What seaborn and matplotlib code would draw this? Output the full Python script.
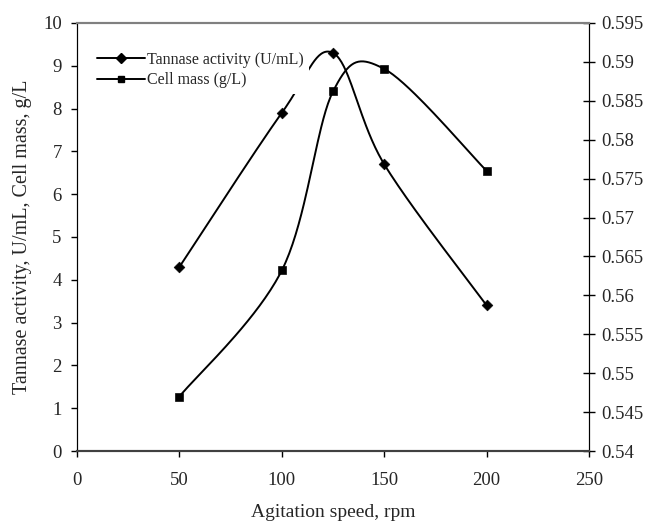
import numpy as np
import matplotlib
matplotlib.use('Agg')
import matplotlib.pyplot as plt
import seaborn as sns
from matplotlib.lines import Line2D

# Dados
velocidade = [50, 100, 125, 150, 200]
tanase = [4.3, 7.9, 9.3, 6.7, 3.4]
massa_celular = [0.547, 0.5632, 0.5862, 0.5891, 0.576]

ticks_dir = [0.54, 0.545, 0.55, 0.555, 0.56, 0.565, 0.57, 0.575, 0.58, 0.585, 0.59, 0.595]
labels_dir = ['0.54', '0.545', '0.55', '0.555', '0.56', '0.565', '0.57', '0.575',
              '0.58', '0.585', '0.59', '0.595']

sns.set_style('ticks')
plt.rcParams['font.family'] = ['Liberation Serif', 'DejaVu Serif']


# Curva suavizada (bezier tipo Excel) calculada em pixels
def curva_suave(ax, xs, ys, n=40):
    pts = ax.transData.transform(np.column_stack([xs, ys]))
    m = len(pts)
    saida = []
    for i in range(m - 1):
        p0 = pts[i - 1] if i > 0 else pts[i]
        p1 = pts[i]
        p2 = pts[i + 1]
        p3 = pts[i + 2] if i + 2 < m else pts[i + 1]
        c1 = p1 + (p2 - p0) / 6
        c2 = p2 - (p3 - p1) / 6
        t = np.linspace(0, 1, n)[:, None]
        seg = ((1 - t) ** 3) * p1 + 3 * ((1 - t) ** 2) * t * c1 + 3 * (1 - t) * t ** 2 * c2 + t ** 3 * p2
        saida.append(seg if i == 0 else seg[1:])
    saida = np.vstack(saida)
    dados = ax.transData.inverted().transform(saida)
    return dados[:, 0], dados[:, 1]


fig = plt.figure(figsize=(6.57, 5.27), dpi=100)
ax = fig.add_axes([0.1172, 0.1442, 0.7793, 0.8122])
ax2 = ax.twinx()

ax.set_xlim(0, 250)
ax.set_ylim(0, 10)
ax2.set_ylim(0.54, 0.595)

# Tanase (eixo esquerdo)
cx, cy = curva_suave(ax, velocidade, tanase)
ax.plot(cx, cy, color='black', lw=1.4, zorder=2)
sns.scatterplot(x=velocidade, y=tanase, ax=ax, marker='D', s=30, color='black',
                edgecolor='black', zorder=3, legend=False)

# Massa celular (eixo direito)
mx, my = curva_suave(ax2, velocidade, massa_celular)
ax2.plot(mx, my, color='black', lw=1.4, zorder=2)
sns.scatterplot(x=velocidade, y=massa_celular, ax=ax2, marker='s', s=34, color='black',
                edgecolor='black', zorder=3, legend=False)

# Eixos
ax.set_xticks([0, 50, 100, 150, 200, 250])
ax.set_yticks(range(0, 11))
ax2.set_yticks(ticks_dir)
ax2.set_yticklabels(labels_dir)
ax.tick_params(axis='x', labelsize=13.5, direction='out', length=4, color='black', width=1, pad=11)
ax.tick_params(axis='y', labelsize=13.5, direction='out', length=4, color='black', width=1, pad=7)
ax2.tick_params(axis='y', labelsize=13.5, direction='inout', length=8, color='black', width=1, pad=5)
ax.set_xlabel('Agitation speed, rpm', fontsize=14, labelpad=11)
ax.set_ylabel('Tannase activity, U/mL, Cell mass, g/L', fontsize=14.5, labelpad=8)

for a in (ax, ax2):
    a.spines['top'].set_color('#808080')
    a.spines['top'].set_linewidth(1.5)
    a.spines['bottom'].set_color('#404040')
    a.spines['bottom'].set_linewidth(1.5)
    a.spines['left'].set_color('black')
    a.spines['right'].set_color('black')

# Legenda
handles = [Line2D([], [], color='black', lw=1.4, marker='D', markersize=5),
           Line2D([], [], color='black', lw=1.4, marker='s', markersize=5)]
leg = ax2.legend(handles, ['Tannase activity (U/mL)', 'Cell mass (g/L)'],
                 loc='upper left', bbox_to_anchor=(0.013, 0.965), frameon=True,
                 fontsize=11.5, handlelength=3.0, handletextpad=0.1, labelspacing=0.3,
                 borderpad=0.35, fancybox=False)
leg.get_frame().set_edgecolor('none')
leg.get_frame().set_facecolor('white')
leg.get_frame().set_alpha(1)
leg.set_zorder(10)

fig.savefig('out.png', dpi=100)
